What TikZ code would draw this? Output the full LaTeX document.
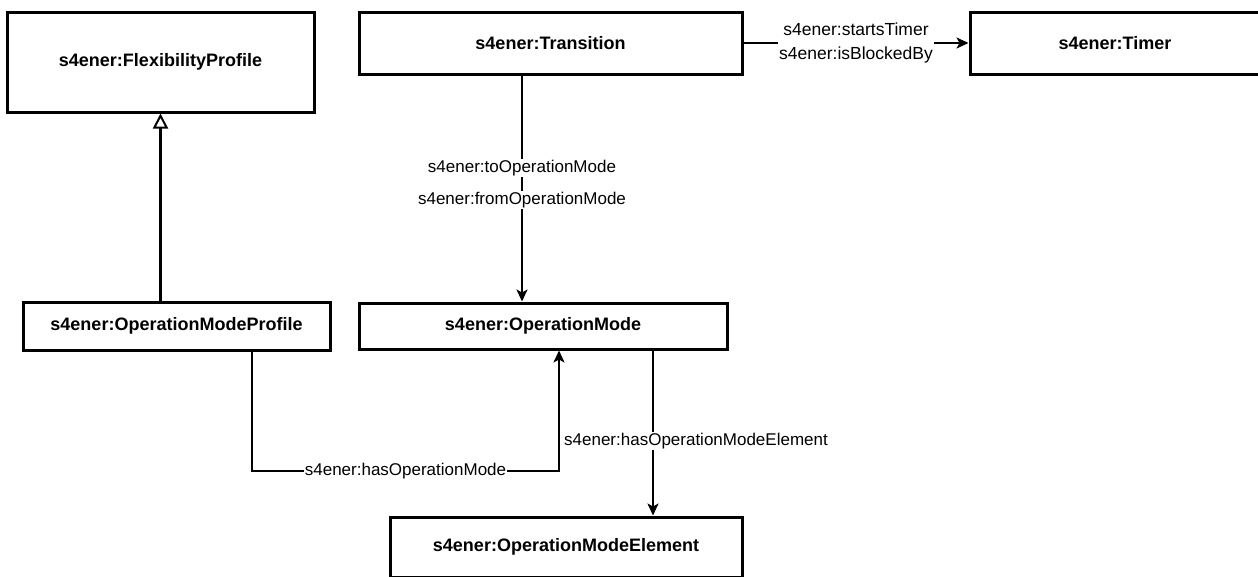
\documentclass[tikz,border=0pt]{standalone}
\usepackage{fontspec}
\setmainfont{Liberation Sans}
\usetikzlibrary{arrows.meta}

\tikzset{
  cls/.style={draw, line width=3pt, fill=white, inner sep=0pt,
    font=\bfseries\fontsize{18}{20}\selectfont},
  rel/.style={line width=2pt, -{Stealth[length=12pt,width=11pt,inset=3pt]}},
  isa/.style={line width=2.5pt, -{Triangle[open,length=15pt,width=15pt,line width=2pt]}},
  lbl/.style={fill=white, inner sep=1pt, font=\fontsize{17}{19}\selectfont},
}

\begin{document}
\begin{tikzpicture}[x=1pt, y=-1pt]
  \useasboundingbox (0,0) rectangle (1258,576);
  % classes: name/x/y/width/height/label
  \foreach \nm/\x/\y/\w/\h/\txt in {
      flex/160.5/62/307/100/FlexibilityProfile,
      trans/550.5/43/383/62/Transition,
      timer/1115/43/290/62/Timer,
      omp/176.5/326/307/48/OperationModeProfile,
      om/543/326/368/46/OperationMode,
      ome/566/547/352/60/OperationModeElement}
    \node[cls, minimum width=\w pt, minimum height=\h pt] (\nm) at (\x,\y) {s4ener:\txt};

  \coordinate (tx) at (522,0);
  \coordinate (hl) at (252,471);
  \coordinate (hr) at (559,471);
  \coordinate (ex) at (653,0);

  \draw[isa] (omp.north -| flex.south) -- (flex.south);
  \draw[rel] (trans) -- node[lbl, align=center, font=\fontsize{17.5}{24}\selectfont]
    {s4ener:startsTimer\\s4ener:isBlockedBy} (timer);
  \draw[rel] (trans.south -| tx) -- node[lbl, pos=.41] {s4ener:toOperationMode}
    node[lbl, pos=.55] {s4ener:fromOperationMode} (om.north -| tx);
  \draw[rel] (omp.south -| hl) -- (hl) -- node[lbl] {s4ener:hasOperationMode} (hr) -- (om.south -| hr);
  \draw[rel] (om.south -| ex) -- node[lbl, pos=.55, xshift=43pt]
    {s4ener:hasOperationModeElement} (ome.north -| ex);
\end{tikzpicture}
\end{document}
